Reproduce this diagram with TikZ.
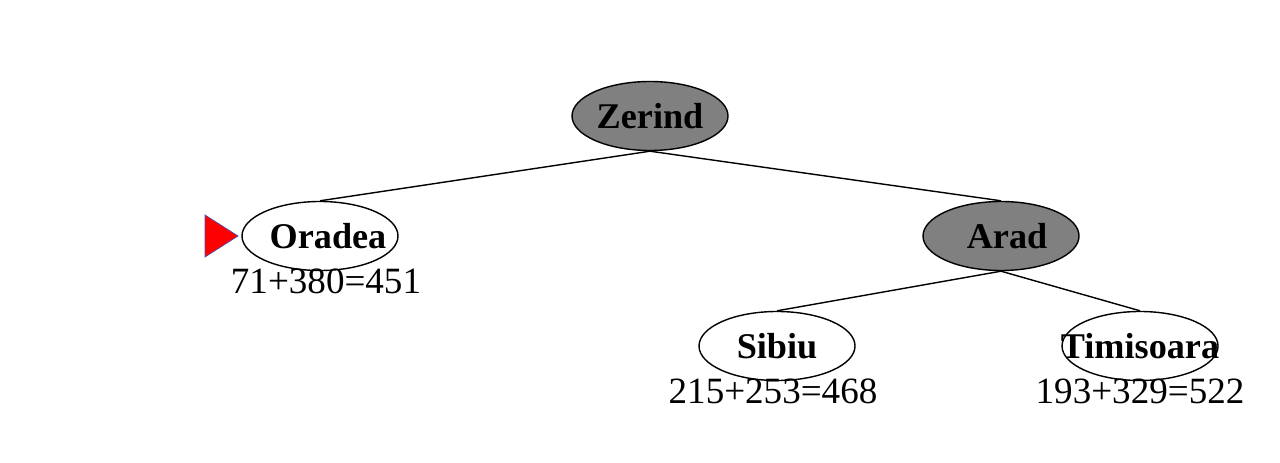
\documentclass[tikz,border=0pt]{standalone}
\usepackage{fontspec}
\setmainfont{Liberation Serif}
\usetikzlibrary{shapes.geometric}
\newcommand{\cityname}[2][0pt]{\makebox[0pt]{\hspace{#1}#2}}
\begin{document}
\begin{tikzpicture}[font=\fontsize{10}{12}\selectfont,
    city/.style ={draw, ellipse, inner sep=0pt, minimum width=1.56cm, minimum height=0.69cm, font=\fontsize{10.3}{12}\selectfont\bfseries},
    done/.style ={city, fill=gray},
    cost/.style ={inner sep=0pt, font=\fontsize{10.55}{12}\selectfont},
    edge/.style ={draw, line width=0.4pt},
  ]
  \useasboundingbox (0,0) rectangle (12.8,4.62);
  % tree
  \node[done] (zer) at (6.50,3.46) {\cityname{Zerind}};
  \node[city] (ora) at (3.20,2.26) {\cityname[0.16cm]{Oradea}};
  \node[done] (ara) at (10.01,2.26) {\cityname[0.12cm]{Arad}};
  \node[city] (sib) at (7.77,1.16) {\cityname{Sibiu}};
  \node[city] (tim) at (11.40,1.16) {\cityname{Timisoara}};
  % f = g + h
  \node[cost] (cora) at (3.26,1.81) {71+380=451};
  \node[cost] (csib) at (7.73,0.71) {215+253=468};
  \node[cost] (ctim) at (11.40,0.71) {193+329=522};
  \draw[edge] (zer.south) -- (ora.north);
  \draw[edge] (zer.south) -- (ara.north);
  \draw[edge] (ara.south) -- (sib.north);
  \draw[edge] (ara.south) -- (tim.north);
  % next to expand
  \filldraw[fill=red, draw=blue!40!gray, line width=0.2pt] (2.05,2.47) -- (2.38,2.26) -- (2.05,2.05) -- cycle;
\end{tikzpicture}
\end{document}
